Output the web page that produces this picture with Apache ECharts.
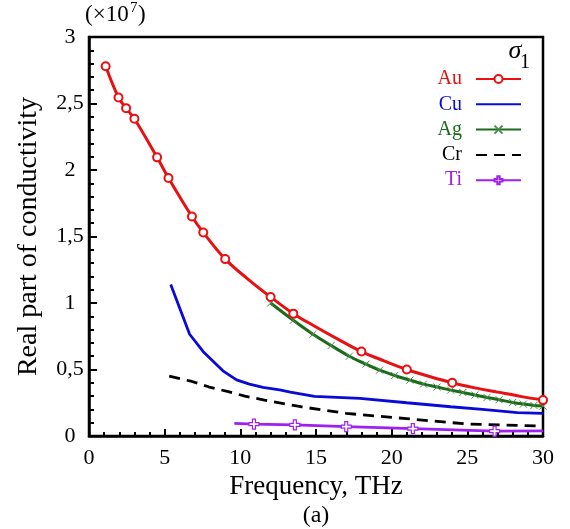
<!DOCTYPE html>
<html><head><meta charset="utf-8">
<script src="https://cdn.jsdelivr.net/npm/echarts@6/dist/echarts.min.js"></script>
<style>html,body{margin:0;padding:0;background:#fff}#c{width:570px;height:529px}</style>
</head><body><div id="c"></div>
<script>
// ---- data ----
// Au: points carrying a circle marker
const auX = [1.1, 1.95, 2.45, 3.0, 4.5, 5.25, 6.8, 7.55, 9.0, 12.0, 13.5, 18.0, 21.0, 24.0, 30.0];
const auY = [2.78, 2.545, 2.465, 2.385, 2.095, 1.94, 1.65, 1.53, 1.33, 1.045, 0.92, 0.635, 0.50, 0.40, 0.27];
// Au: further points on the curve between markers (no marker)
const auMidX = [10.5, 15.0, 16.5, 19.5, 22.5, 25.5, 27.0, 28.5];
const auMidY = [1.18, 0.82, 0.725, 0.565, 0.447, 0.362, 0.33, 0.298];

const cuX = [5.4, 6.65, 7.55, 8.85, 9.75, 10.6, 11.5, 12.6, 13.3, 14.9, 17.9, 21.0, 23.9, 26.0, 28.3, 30.0];
const cuY = [1.14, 0.765, 0.634, 0.49, 0.422, 0.39, 0.366, 0.346, 0.33, 0.298, 0.283, 0.25, 0.22, 0.20, 0.175, 0.17];

const agX = [12.0, 13.5, 14.8, 16.0, 17.2, 18.3, 19.2, 20.2, 21.2, 22.1, 23.0, 23.9, 24.7, 25.5, 26.3, 27.1, 28.0, 28.7, 29.4, 30.0];
const agY = [1.00, 0.87, 0.765, 0.68, 0.60, 0.54, 0.495, 0.455, 0.42, 0.39, 0.368, 0.345, 0.327, 0.308, 0.29, 0.273, 0.252, 0.24, 0.23, 0.225];

const crX = [5.3, 6.8, 7.9, 9.2, 10.3, 11.6, 14.0, 17.0, 21.0, 25.0, 30.0];
const crY = [0.45, 0.41, 0.37, 0.333, 0.30, 0.27, 0.22, 0.17, 0.13, 0.09, 0.075];

const tiX = [9.6, 10.9, 13.6, 17.0, 21.4, 26.8, 30.0];
const tiY = [0.095, 0.09, 0.083, 0.07, 0.055, 0.036, 0.038];

const seriesNames = ['Au', 'Cu', 'Ag', 'Cr', 'Ti'];
const yTickLabels = ['0', '0,5', '1', '1,5', '2', '2,5', '3'];
const xTickLabels = ['0', '5', '10', '15', '20', '25', '30'];

// ---- styles ----
const C = { Au: '#e81010', Cu: '#0a0ad8', Ag: '#1b6b1b', Cr: '#000000', Ti: '#a020f0' };
const SERIF = '"Liberation Serif", "DejaVu Serif", serif';
const pairs = (xs, ys) => xs.map((x, i) => [x, ys[i]]);
const crossX = 'path://M0,0L10,10M10,0L0,10';
const plus = 'path://M3.5,0H6.5V3.5H10V6.5H6.5V10H3.5V6.5H0V3.5H3.5Z';

const auData = pairs(auX, auY).map(p => ({ value: p }))
  .concat(pairs(auMidX, auMidY).map(p => ({ value: p, symbol: 'none' })))
  .sort((a, b) => a.value[0] - b.value[0]);
const tiData = pairs(tiX, tiY).map((p, i) => (i === 0 || i === tiX.length - 1) ? { value: p, symbol: 'none' } : p);

const chart = echarts.init(document.getElementById('c'), null, { renderer: 'canvas' });
chart.setOption({
  animation: false,
  backgroundColor: '#fff',
  grid: { left: 89, right: 27, top: 37, bottom: 93, show: true, borderColor: '#000', borderWidth: 2.5,
          containLabel: false, outerBoundsMode: 'none' },
  xAxis: {
    type: 'value', min: 0, max: 30, interval: 5,
    axisLine: { show: true, lineStyle: { color: '#000', width: 2.5 } },
    axisTick: { show: true, inside: true, length: 7, lineStyle: { color: '#000', width: 2 } },
    minorTick: { show: true, splitNumber: 5, length: 4, lineStyle: { color: '#000', width: 2 } },
    splitLine: { show: false },
    axisLabel: { color: '#000', fontFamily: SERIF, fontSize: 22, margin: 11,
                 formatter: v => xTickLabels[Math.round(v / 5)] },
    name: 'Frequency, THz', nameLocation: 'middle', nameGap: 20,
    nameTextStyle: { color: '#000', fontFamily: SERIF, fontSize: 27 }
  },
  yAxis: {
    type: 'value', min: 0, max: 3, interval: 0.5,
    axisLine: { show: true, lineStyle: { color: '#000', width: 2.5 } },
    axisTick: { show: true, inside: true, length: 8, lineStyle: { color: '#000', width: 2 } },
    minorTick: { show: true, splitNumber: 5, length: 5, lineStyle: { color: '#000', width: 2 } },
    splitLine: { show: false },
    axisLabel: { color: '#000', fontFamily: SERIF, fontSize: 22, margin: 19, align: 'center',
                 formatter: v => yTickLabels[Math.round(v / 0.5)] },
    name: 'Real part of conductivity', nameLocation: 'middle', nameGap: 46,
    nameTextStyle: { color: '#000', fontFamily: SERIF, fontSize: 28 }
  },
  legend: {
    orient: 'vertical', align: 'right', right: 48, top: 69, padding: 0,
    itemWidth: 45, itemHeight: 10, itemGap: 5.3,
    textStyle: { fontFamily: SERIF, fontSize: 20, lineHeight: 12, padding: [0, 9, 6, 0] },
    data: seriesNames.map(n => {
      const d = { name: n, textStyle: { color: C[n] } };
      if (n === 'Cu' || n === 'Cr') d.itemStyle = { opacity: 0 };
      return d;
    })
  },
  graphic: [
    { type: 'text', left: 85, top: 3, style: { text: '(×10', font: '23px ' + SERIF, fill: '#000' } },
    { type: 'text', left: 130, top: 1, style: { text: '7', font: '15px ' + SERIF, fill: '#000' } },
    { type: 'text', left: 138, top: 3, style: { text: ')', font: '23px ' + SERIF, fill: '#000' } },
    { type: 'text', x: 515, y: 51, style: { text: 'σ', font: 'italic 26px ' + SERIF, fill: '#000', align: 'center', verticalAlign: 'middle' } },
    { type: 'text', x: 525, y: 63, style: { text: '1', font: '20px ' + SERIF, fill: '#000', align: 'center', verticalAlign: 'middle' } },
    { type: 'text', x: 316, y: 516, style: { text: '(a)', font: '24px ' + SERIF, fill: '#000', align: 'center', verticalAlign: 'middle' } }
  ],
  series: [
    { name: 'Au', type: 'line', data: auData, smooth: 0.35,
      symbol: 'emptyCircle', symbolSize: 8, showAllSymbol: true, z: 5,
      itemStyle: { color: C.Au, borderWidth: 1.5 }, lineStyle: { color: C.Au, width: 3 } },
    { name: 'Cu', type: 'line', data: pairs(cuX, cuY), smooth: false,
      symbol: 'none', itemStyle: { color: C.Cu }, lineStyle: { color: C.Cu, width: 2.8 } },
    { name: 'Ag', type: 'line', data: pairs(agX, agY), smooth: 0.3,
      symbol: crossX, symbolSize: 7, showAllSymbol: true, z: 4,
      itemStyle: { color: 'rgba(0,0,0,0)', borderColor: '#4c8c4c', borderWidth: 1 },
      lineStyle: { color: C.Ag, width: 3 } },
    { name: 'Cr', type: 'line', data: pairs(crX, crY), smooth: false,
      symbol: 'none', itemStyle: { color: C.Cr }, lineStyle: { color: C.Cr, width: 2.8, type: [11, 7] } },
    { name: 'Ti', type: 'line', data: tiData, symbol: plus, symbolSize: 10, showAllSymbol: true,
      itemStyle: { color: '#fff', borderColor: C.Ti, borderWidth: 1.2 },
      lineStyle: { color: C.Ti, width: 2.8 } }
  ]
});
</script>
</body></html>
